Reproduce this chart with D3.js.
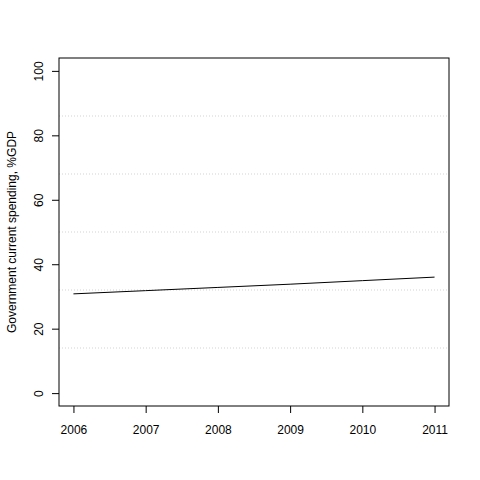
<!DOCTYPE html>
<html>
<head>
<meta charset="utf-8">
<script src="https://cdn.jsdelivr.net/npm/d3@7"></script>
<style>
  body { margin: 0; background: #fff; }
  text { font-family: "Liberation Sans", Arial, sans-serif; font-size: 12px; fill: #000; }
</style>
</head>
<body>
<div id="chart"></div>
<script>
var years = [2006, 2007, 2008, 2009, 2010, 2011];
var spending = [30.8, 31.8, 32.8, 33.8, 34.9, 36.0];
var yTicks = [0, 20, 40, 60, 80, 100];
var gridLevels = [14, 32, 50, 68, 86];

var margin = { top: 58, right: 31, bottom: 74, left: 59 },
    width = 480 - margin.left - margin.right,
    height = 480 - margin.top - margin.bottom;

var svg = d3.select("#chart").append("svg")
    .attr("width", 480)
    .attr("height", 480);

var g = svg.append("g")
    .attr("transform", "translate(" + margin.left + "," + margin.top + ")");

// R style 4% padding on both axes
var x = d3.scaleLinear().domain([2005.8, 2011.2]).range([0, width]);
var y = d3.scaleLinear().domain([-4, 104]).range([height, 0]);

// dotted grid
g.selectAll(".grid").data(gridLevels)
  .enter().append("line")
    .attr("x1", 0).attr("x2", width)
    .attr("y1", function (d) { return y(d); })
    .attr("y2", function (d) { return y(d); })
    .attr("stroke", "#d3d3d3")
    .attr("stroke-dasharray", "1,2");

var line = d3.line()
    .x(function (d, i) { return x(years[i]); })
    .y(function (d) { return y(d); });

g.append("path")
    .datum(spending)
    .attr("fill", "none")
    .attr("stroke", "#000")
    .attr("stroke-width", 1)
    .attr("d", line);

// box
g.append("rect")
    .attr("width", width).attr("height", height)
    .attr("fill", "none").attr("stroke", "#000");

var xAxis = g.append("g")
    .attr("transform", "translate(0," + height + ")")
    .call(d3.axisBottom(x).tickValues(years).tickFormat(d3.format("d")).tickSize(7).tickPadding(12));
xAxis.select(".domain").remove();
xAxis.selectAll("text").style("font-size", "12px").style("font-family", "Liberation Sans, Arial, sans-serif");

var yAxis = g.append("g")
    .call(d3.axisLeft(y).tickValues(yTicks).tickSize(7));
yAxis.select(".domain").remove();
yAxis.selectAll("text")
    .attr("x", null).attr("dy", null)
    .attr("transform", "translate(-16,0) rotate(-90)")
    .style("text-anchor", "middle")
    .style("font-size", "12px")
    .style("font-family", "Liberation Sans, Arial, sans-serif");

svg.append("text")
    .attr("transform", "translate(16," + (margin.top + height / 2) + ") rotate(-90)")
    .style("text-anchor", "middle")
    .text("Government current spending, %GDP");
</script>
</body>
</html>
